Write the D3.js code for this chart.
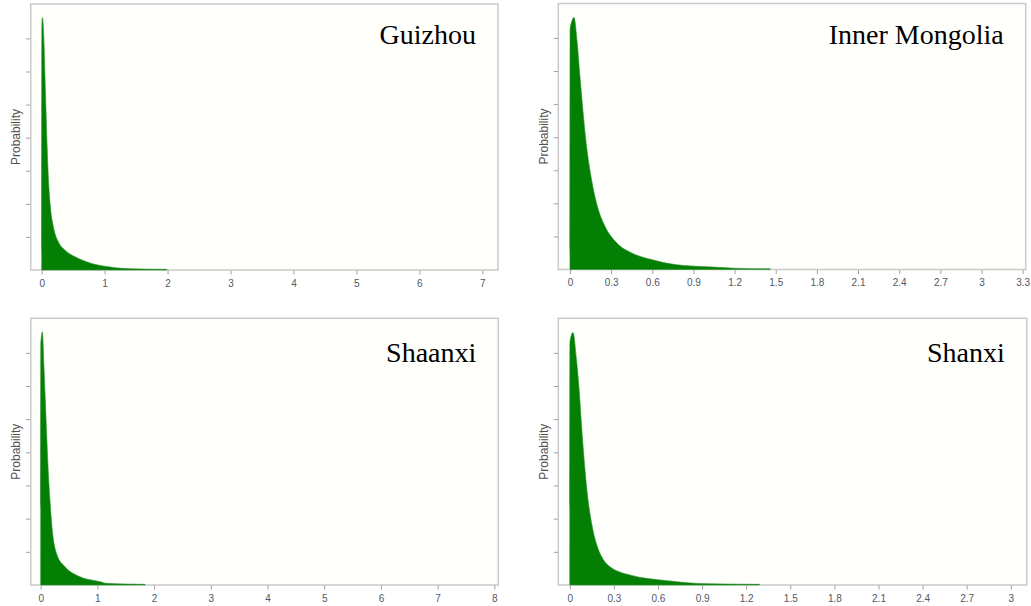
<!DOCTYPE html>
<html>
<head>
<meta charset="utf-8">
<script src="https://cdn.jsdelivr.net/npm/d3@7"></script>
<style>
  html, body { margin: 0; padding: 0; background: #ffffff; }
  svg { display: block; }
  .tick text { font-family: "Liberation Sans", Arial, sans-serif; }
</style>
</head>
<body>
<svg id="chart" width="1031" height="606"></svg>
<script>
// Density curves of the rate for each province (x = rate, y = probability density)
const guizhouRate    = [0, 0.002, 0.01, 0.037, 0.052, 0.068, 0.084, 0.105, 0.143, 0.185, 0.275, 0.37, 0.53, 0.79, 1.06, 1.27, 1.6, 1.99];
const guizhouDensity = [0, 7.30, 7.63, 6.85, 5.84, 4.83, 3.83, 2.82, 1.81, 1.31, 0.81, 0.60, 0.40, 0.20, 0.10, 0.05, 0.03, 0.02];

const mongoliaRate    = [0, 0.001, 0.012, 0.029, 0.053, 0.073, 0.094, 0.118, 0.153, 0.207, 0.255, 0.34, 0.45, 0.595, 0.765, 1.01, 1.2, 1.46];
const mongoliaDensity = [0, 7.25, 7.48, 7.62, 6.85, 5.84, 4.83, 3.83, 2.82, 1.81, 1.31, 0.81, 0.50, 0.30, 0.15, 0.08, 0.04, 0.02];

const shaanxiRate    = [0, 0.002, 0.03, 0.058, 0.082, 0.105, 0.13, 0.164, 0.21, 0.245, 0.29, 0.43, 0.69, 1.05, 1.16, 1.5, 1.84];
const shaanxiDensity = [0, 7.30, 7.63, 6.58, 5.57, 4.57, 3.56, 2.56, 1.56, 1.17, 0.90, 0.55, 0.25, 0.10, 0.05, 0.03, 0.02];

const shanxiRate    = [0, 0.001, 0.022, 0.045, 0.065, 0.08, 0.097, 0.118, 0.152, 0.19, 0.23, 0.28, 0.34, 0.42, 0.52, 0.605, 0.76, 0.88, 1.05, 1.29];
const shanxiDensity = [0, 7.33, 7.61, 6.83, 5.82, 4.82, 3.82, 2.81, 1.78, 1.13, 0.75, 0.53, 0.39, 0.29, 0.20, 0.155, 0.085, 0.045, 0.03, 0.02];

// Axis tick values
const guizhouTicks  = [0, 1, 2, 3, 4, 5, 6, 7];
const mongoliaTicks = [0, 0.3, 0.6, 0.9, 1.2, 1.5, 1.8, 2.1, 2.4, 2.7, 3, 3.3];
const shaanxiTicks  = [0, 1, 2, 3, 4, 5, 6, 7, 8];
const shanxiTicks   = [0, 0.3, 0.6, 0.9, 1.2, 1.5, 1.8, 2.1, 2.4, 2.7, 3];
const densityTicks  = [1, 2, 3, 4, 5, 6, 7];

const provinces = ["Guizhou", "Inner Mongolia", "Shaanxi", "Shanxi"];
const yLabel = "Probability";

// Panel layout: plot box in page pixels, the x range it covers, title baseline offset
const panels = [
  { name: provinces[0], rate: guizhouRate,  density: guizhouDensity,  ticks: guizhouTicks,
    box: { l: 30.7, t: 4,     r: 498,    b: 270 },   xDomain: [-0.175, 7.25], titleDy: 39.5 },
  { name: provinces[1], rate: mongoliaRate, density: mongoliaDensity, ticks: mongoliaTicks,
    box: { l: 558.3, t: 3.5,  r: 1025.7, b: 269.5 }, xDomain: [-0.085, 3.322], titleDy: 40 },
  { name: provinces[2], rate: shaanxiRate,  density: shaanxiDensity,  ticks: shaanxiTicks,
    box: { l: 30.7, t: 318.3, r: 498.3,  b: 585 },   xDomain: [-0.176, 8.07], titleDy: 43.5 },
  { name: provinces[3], rate: shanxiRate,   density: shanxiDensity,   ticks: shanxiTicks,
    box: { l: 558.3, t: 318.3, r: 1026.7, b: 585 },  xDomain: [-0.078, 3.108], titleDy: 43.5 }
];
const yDomain = [0, 8.04];

const svg = d3.select("#chart");
const fmt = d => String(+d.toFixed(1));

panels.forEach(p => {
  const { l, t, r, b } = p.box;
  const x = d3.scaleLinear().domain(p.xDomain).range([l, r]);
  const y = d3.scaleLinear().domain(yDomain).range([b, t]);
  const g = svg.append("g");

  // plot frame
  g.append("rect")
    .attr("x", l).attr("y", t)
    .attr("width", r - l).attr("height", b - t)
    .attr("fill", "#fffffc")
    .attr("stroke", "#cacaca")
    .attr("stroke-width", 1.5);

  // density fill
  const pts = p.rate.map((v, i) => [v, p.density[i]]);
  const area = d3.area()
    .x(d => x(d[0]))
    .y0(y(0))
    .y1(d => y(d[1]))
    .curve(d3.curveMonotoneX);
  g.append("path")
    .datum(pts)
    .attr("d", area)
    .attr("fill", "#037f03")
    .attr("stroke", "#2b8f2b")
    .attr("stroke-width", 0.6);

  // x axis
  const xa = g.append("g")
    .attr("transform", `translate(0,${b + 0.5})`)
    .call(d3.axisBottom(x).tickValues(p.ticks).tickFormat(fmt).tickSize(4).tickSizeOuter(0));
  xa.select(".domain").remove();
  xa.selectAll(".tick line").attr("stroke", "#a0a0a0");
  xa.selectAll(".tick text")
    .attr("fill", "#4f5866")
    .attr("font-size", 10)
    .attr("dy", "0.9em");

  // y axis (ticks only)
  const ya = g.append("g")
    .attr("transform", `translate(${l - 0.5},0)`)
    .call(d3.axisLeft(y).tickValues(densityTicks).tickFormat("").tickSize(4).tickSizeOuter(0));
  ya.select(".domain").remove();
  ya.selectAll(".tick line").attr("stroke", "#a0a0a0");

  // y label
  g.append("text")
    .attr("transform", `translate(${l - 10.5},${(t + b) / 2}) rotate(-90)`)
    .attr("text-anchor", "middle")
    .attr("font-family", "Liberation Sans, Arial, sans-serif")
    .attr("font-size", 12)
    .attr("fill", "#505050")
    .text(yLabel);

  // province name
  g.append("text")
    .attr("x", r - 22)
    .attr("y", t + p.titleDy)
    .attr("text-anchor", "end")
    .attr("font-family", "Liberation Serif, 'Times New Roman', serif")
    .attr("font-size", 28)
    .attr("fill", "#000")
    .text(p.name);
});
</script>
</body>
</html>
